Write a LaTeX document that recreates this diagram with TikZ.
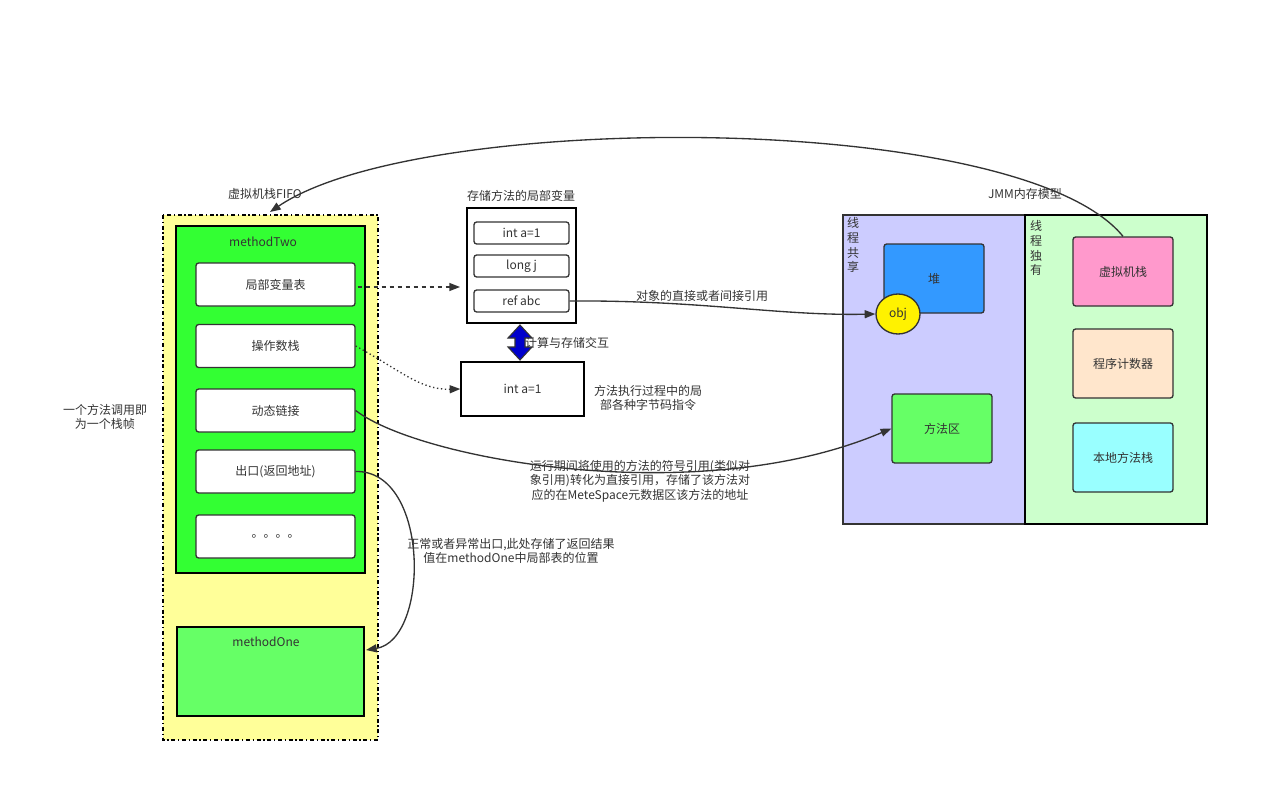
\documentclass[tikz,border=0pt]{standalone}
\usepackage{fontspec}
\setmainfont{Noto Sans CJK SC}
\usetikzlibrary{arrows.meta,shapes.geometric}
\definecolor{txt}{HTML}{333333}
\tikzset{
  box/.style={draw=txt,line width=1pt,rounded corners=2pt,align=center,font=\fontsize{9}{11}\selectfont,text=txt},
  slot/.style={box,fill=white,minimum width=119.25pt,minimum height=32.25pt},
  var/.style={box,fill=white,minimum width=71.25pt,minimum height=16.5pt},
  area/.style={box,minimum width=75pt,minimum height=51.75pt},
  lbl/.style={font=\fontsize{9}{11}\selectfont,text=txt,align=center},
  link/.style={draw=txt,line width=1pt,-{Triangle[length=8pt,width=6pt]}}
}
\begin{document}
\begin{tikzpicture}[x=0.75pt,y=-0.75pt]
\useasboundingbox (0,0) rectangle (1268,803);
% stack of frames
\draw[fill={rgb,255:red,255;green,255;blue,153},line width=1pt,dash dot] (163,215) rectangle (378,740);
\draw[fill={rgb,255:red,51;green,255;blue,51},draw=black,line width=1pt] (176,226) rectangle (365,573);
\node[lbl] at (263,242) {methodTwo};
\node[slot] (lv) at (275.5,284.5) {局部变量表};
\node[slot] (os) at (275.5,346) {操作数栈};
\node[slot] (dl) at (275.5,410.5) {动态链接};
\node[slot] (ex) at (275.5,471.5) {出口(返回地址)};
\node[slot] (dd) at (275.5,536.5) {。。。。};
\draw[fill={rgb,255:red,102;green,255;blue,102},draw=black,line width=1pt] (177,627) rectangle (364,716);
\coordinate (m1) at (366,650);
\node[lbl] at (266,642) {methodOne};
\node[lbl] at (105,417) {一个方法调用即\\为一个栈帧};
\node[lbl] at (265,194) {虚拟机栈FIFO};
% local variables
\draw[line width=1pt] (467,208) rectangle (576,323);
\node[lbl] at (521,196) {存储方法的局部变量};
\node[var] (va) at (521.5,233) {int a=1};
\node[var] (vj) at (521.5,266) {long j};
\node[var] (vr) at (521.5,301) {ref abc};
\coordinate (lvin) at (460,287);
\node[draw=black,line width=1pt,minimum width=92.25pt,minimum height=40.5pt,lbl] (op) at (522.5,389) {int a=1};
\draw[fill={rgb,255:red,0;green,0;blue,204},draw=txt,line width=0.8pt]
  (520,325) -- (532,338) -- (525,338) -- (525,347) -- (532,347) -- (520,360)
  -- (508,347) -- (515,347) -- (515,338) -- (508,338) -- cycle;
\node[lbl] at (567,343) {计算与存储交互};
\node[lbl] at (648,398) {方法执行过程中的局\\部各种字节码指令};
% memory model
\draw[fill={rgb,255:red,204;green,204;blue,255},draw=txt,line width=1pt] (843,215) rectangle (1025,524);
\draw[fill={rgb,255:red,204;green,255;blue,204},draw=black,line width=1pt] (1025,215) rectangle (1207,524);
\node[lbl,anchor=north] at (853,213) {线\\程\\共\\享};
\node[lbl,anchor=north] at (1036,216) {线\\程\\独\\有};
\node[lbl] at (1025,194) {JMM内存模型};
\node[area,fill={rgb,255:red,51;green,153;blue,255}] (heap) at (934,278.5) {堆};
\node[draw=txt,line width=1pt,fill=yellow,ellipse,minimum width=33pt,minimum height=30pt,inner sep=0pt,lbl] (obj) at (898,314) {obj};
\node[area,fill={rgb,255:red,102;green,255;blue,102}] (ma) at (942,428.5) {方法区};
\node[area,fill={rgb,255:red,255;green,153;blue,204}] (vs) at (1123,271.5) {虚拟机栈};
\node[area,fill={rgb,255:red,255;green,230;blue,204}] (pc) at (1123,363.5) {程序计数器};
\node[area,fill={rgb,255:red,153;green,255;blue,255}] (ns) at (1123,457.5) {本地方法栈};
% connectors
\coordinate (fifo) at (270,212);
\draw[link] (vs.north) .. controls (1020,110) and (420,110) .. (fifo);
\draw[link,dashed] (lv.east) ++(2,2.5) coordinate (lvs) -- (lvin);
\draw[link,dotted] (os.east) .. controls (400,370) and (420,390) .. (op.west);
\draw[link] (vr.east) .. controls (700,300) and (780,316) .. (obj.west);
\node[lbl] at (702,296) {对象的直接或者间接引用};
\draw[link] (dl.east) .. controls (420,460) and (700,510) .. (ma.west);
\node[lbl] at (640,481) {运行期间将使用的方法的符号引用(类似对\\象引用)转化为直接引用，存储了该方法对\\应的在MeteSpace元数据区该方法的地址};
\draw[link] (ex.east) .. controls (430,470) and (430,640) .. (m1);
\node[lbl] at (511,551) {正常或者异常出口,此处存储了返回结果\\值在methodOne中局部表的位置};
\end{tikzpicture}
\end{document}
